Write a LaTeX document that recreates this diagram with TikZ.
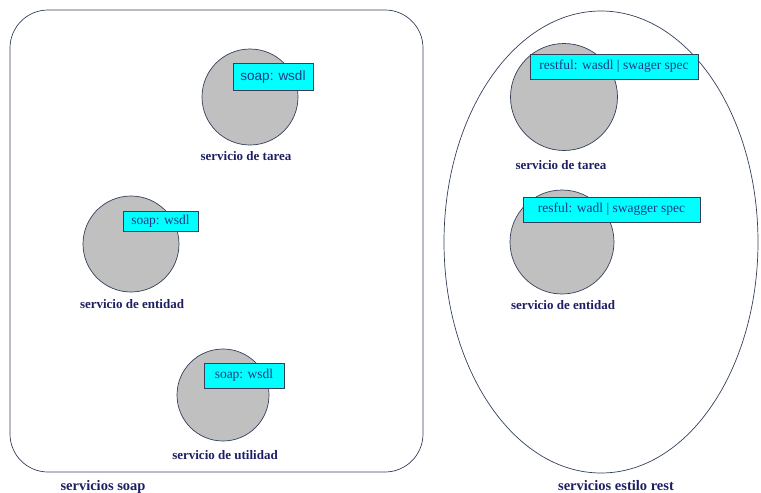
\documentclass[tikz,border=0pt]{standalone}
\usepackage{fontspec}
\setmainfont{Liberation Serif}
\newfontfamily\arialfont{Liberation Sans}
\definecolor{navy}{HTML}{1E1E64}
\definecolor{tagtext}{HTML}{1F3A85}
\definecolor{tagfill}{HTML}{00FFFF}
\definecolor{edge}{HTML}{33405A}
\definecolor{svcfill}{HTML}{C0C0C0}
\begin{document}
\begin{tikzpicture}[x=1pt,y=-1pt,
  svc/.style={circle, draw=edge, fill=svcfill, line width=0.7pt, inner sep=0pt},
  tag/.style={draw=edge, fill=tagfill, line width=0.6pt, inner sep=0pt,
              text=tagtext, font=\fontsize{13.5}{15}\selectfont},
  lbl/.style={text=navy, font=\bfseries\fontsize{13}{15}\selectfont, inner sep=0pt},
  grouptitle/.style={text=navy, font=\bfseries\fontsize{14.5}{16}\selectfont, inner sep=0pt},
  group/.style={draw=edge, line width=0.7pt}]
\useasboundingbox (0,0) rectangle (761,493);

% group containers
\draw[group, rounded corners=38pt] (10,10) rectangle (423,472);
\draw[group] (601,242) ellipse [x radius=157, y radius=231];

% soap services
\node[svc, minimum size=96pt] (st) at (250,97) {};
\node[tag, minimum width=80pt, minimum height=27pt, font=\arialfont\fontsize{13.5}{15}\selectfont] (stt) at (273,77) {soap: wsdl};
\node[lbl] (stl) at (246,156) {servicio de tarea};

\node[svc, minimum size=96pt] (se) at (131,244) {};
\node[tag, minimum width=75pt, minimum height=20pt] (set) at (160.5,221.5) {soap: wsdl};
\node[lbl] (sel) at (132,304) {servicio de entidad};

\node[svc, minimum size=92pt] (su) at (223,395) {};
\node[tag, minimum width=80pt, minimum height=25pt] (sut) at (244,375.5) {soap: wsdl};
\node[lbl] (sul) at (225,455) {servicio de utilidad};

% rest services
\node[svc, minimum size=107pt] (rt) at (564,97) {};
\node[tag, minimum width=168pt, minimum height=25pt] (rtt) at (614,66.5) {restful: wasdl | swager spec};
\node[lbl] (rtl) at (561,165) {servicio de tarea};

\node[svc, minimum size=104pt] (re) at (562,242) {};
\node[tag, minimum width=177pt, minimum height=25pt] (ret) at (611.5,209.5) {resful: wadl | swagger spec};
\node[lbl] (rel) at (563,305) {servicio de entidad};

% group captions
\node[grouptitle] (gs) at (103,487) {servicios soap};
\node[grouptitle] (gr) at (616,486) {servicios estilo rest};
\end{tikzpicture}
\end{document}
